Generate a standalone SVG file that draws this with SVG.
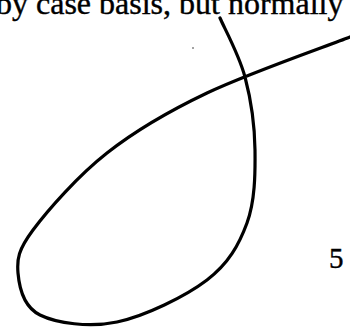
<svg xmlns="http://www.w3.org/2000/svg" width="350" height="327" viewBox="0 0 350 327">
<style>
.txt{font-family:"Liberation Serif","Times New Roman",serif;fill:#000;stroke:#000;stroke-width:0.4}
.curve{fill:none;stroke:#000;stroke-width:3.2;stroke-linecap:round;stroke-linejoin:round}
</style>
<rect width="350" height="327" fill="#fff"/>
<text class="txt" x="-4" y="14" font-size="32">by case basis, but normally</text>
<text class="txt" x="329" y="268" font-size="29">5</text>
<path class="curve" d="M220,18 C224.2,27.8 239.2,55 245,77 C250.8,99 254.7,125.7 255,150 C255.3,174.3 255,201.3 247,223 C239,244.7 228.7,263.5 207,280 C185.3,296.5 144.8,316.2 117,322 C89.2,327.8 56.5,323.2 40,315 C23.5,306.8 19.2,287.2 18,273 C16.8,258.8 18.2,250 33,230 C47.8,210 78,175.8 107,153 C136,130.2 166.5,112.3 207,93 C247.5,73.7 326.2,46.3 350,37"/>
<circle cx="193" cy="48" r="0.7" fill="#000"/>
</svg>
